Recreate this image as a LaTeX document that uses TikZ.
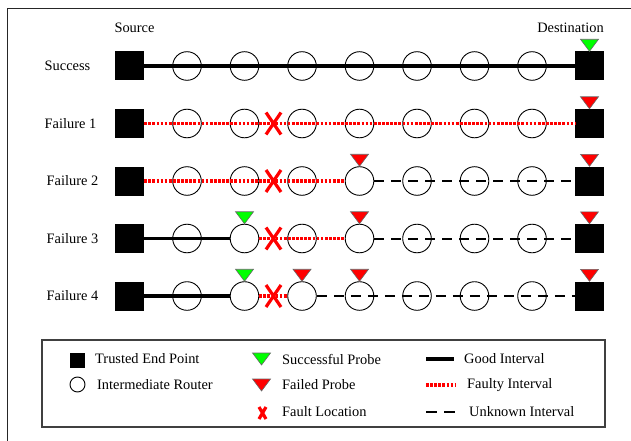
\documentclass[tikz,border=0pt]{standalone}
\usepackage{fontspec}
\setmainfont{Liberation Serif}
\usetikzlibrary{positioning}

\definecolor{probegreen}{RGB}{0,255,0}
\definecolor{probered}{RGB}{255,0,0}

\tikzset{
	endpoint/.style = {draw = none, fill = black, minimum size = 29pt, inner sep = 0pt},
	router/.style = {draw = black, line width = 0.9pt, circle, minimum size = 28.6pt, inner sep = 0pt},
	good/.style = {solid, black, line width = 3.2pt},
	faulty/.style = {probered, line width = 3.4pt, dash pattern = on 2.7pt off 1.4pt},
	unknown/.style = {black, line width = 2pt, dash pattern = on 10pt off 7pt},
	fault/.style = {probered, line width = 3.2pt},
	rowtext/.style = {font = \fontsize{14.4}{16}\selectfont, inner sep = 0pt},
	keytext/.style = {font = \fontsize{14.4}{16}\selectfont, inner sep = 0pt, anchor = west}
}

% probe triangle sitting on top of a node
\newcommand{\probe}[2]{\draw[draw = black!60, fill = #2, line width = 0.6pt] (#1) -- ++(-9, -12) -- ++(18, 0) -- cycle;}
% fault cross
\newcommand{\faultx}[3]{\draw[fault] (#1) ++(-#2, -#3) -- ++(2*#2, 2*#3) (#1) ++(#2, -#3) -- ++(-2*#2, 2*#3);}

\begin{document}
\begin{tikzpicture}[x = 1pt, y = -1pt]

	\useasboundingbox (0, 0) rectangle (631, 441);
	\draw[line width = 1pt, black!85] (7, 9) rectangle (640, 450);

	% nodes of the five rows
	\foreach \r/\y in {1/66, 2/123.5, 3/181, 4/238.5, 5/296} {
		\node[endpoint] (s\r) at (129.5, \y) {};
		\foreach \i in {1, ..., 7}
			\node[router] (n\r\i) at (129.5 + 57.5*\i, \y) {};
		\node[endpoint] (d\r) at (589.5, \y) {};
	}

	\node[rowtext] (src) at (134.5, 28) {Source};
	\node[rowtext] (dst) at (570.5, 28) {Destination};

	\node[rowtext] (row1) at (67.5, 66) {Success};
	\node[rowtext] (row2) at (70.5, 123.5) {Failure 1};
	\node[rowtext] (row3) at (72.5, 181) {Failure 2};
	\node[rowtext] (row4) at (72.5, 238.5) {Failure 3};
	\node[rowtext] (row5) at (72.5, 296) {Failure 4};

	% intervals
	\draw[good] (s1) -- (d1);

	\draw[faulty] (s2) -- (d2);

	\draw[faulty] (s3) -- (n34);
	\draw[unknown] (n34) -- (d3);

	\draw[good] (s4) -- (n42);
	\draw[faulty] (n42) -- (n44);
	\draw[unknown] (n44) -- (d4);

	\draw[good] (s5) -- (n52);
	\draw[faulty] (n52) -- (n53);
	\draw[unknown] (n53) -- (d5);

	% fault locations
	\foreach \r/\y in {2/123.5, 3/181, 4/238.5, 5/296} {
		\coordinate (x\r) at (273.5, \y);
		\faultx{x\r}{7.5}{11}
	}

	% probes
	\probe{d1.north}{probegreen}
	\probe{d2.north}{probered}
	\probe{n34.north}{probered}
	\probe{d3.north}{probered}
	\probe{n42.north}{probegreen}
	\probe{n44.north}{probered}
	\probe{d4.north}{probered}
	\probe{n52.north}{probegreen}
	\probe{n53.north}{probered}
	\probe{n54.north}{probered}
	\probe{d5.north}{probered}

	% legend
	\draw[line width = 1.2pt, black!75] (42, 340) rectangle (605, 427);

	\node[endpoint, minimum size = 15pt] (kend) at (77.5, 360.5) {};
	\node[keytext] (tend) at (95, 359) {Trusted End Point};
	\node[router, minimum size = 15pt] (krouter) at (77.5, 384.5) {};
	\node[keytext] (trouter) at (97, 385) {Intermediate Router};

	\coordinate (kok) at (261.5, 365);
	\probe{kok}{probegreen}
	\node[keytext] (tok) at (282, 359) {Successful Probe};
	\coordinate (kbad) at (261.5, 391);
	\probe{kbad}{probered}
	\node[keytext] (tbad) at (282, 385) {Failed Probe};
	\coordinate (kfault) at (262.5, 413);
	\faultx{kfault}{3.5}{6}
	\node[keytext] (tfault) at (282, 412) {Fault Location};

	\coordinate (kg1) at (426, 359);
	\coordinate (kg2) at (454, 359);
	\draw[good, line width = 3.8pt] (kg1) -- (kg2);
	\node[keytext] (tgood) at (464, 359) {Good Interval};
	\coordinate (kf1) at (426, 385);
	\coordinate (kf2) at (456, 385);
	\draw[faulty] (kf1) -- (kf2);
	\node[keytext] (tfaulty) at (467, 385) {Faulty Interval};
	\coordinate (ku1) at (426, 412);
	\coordinate (ku2) at (455, 412);
	\draw[unknown, dash pattern = on 11pt off 7pt] (ku1) -- (ku2);
	\node[keytext] (tunknown) at (469, 412) {Unknown Interval};

\end{tikzpicture}
\end{document}
